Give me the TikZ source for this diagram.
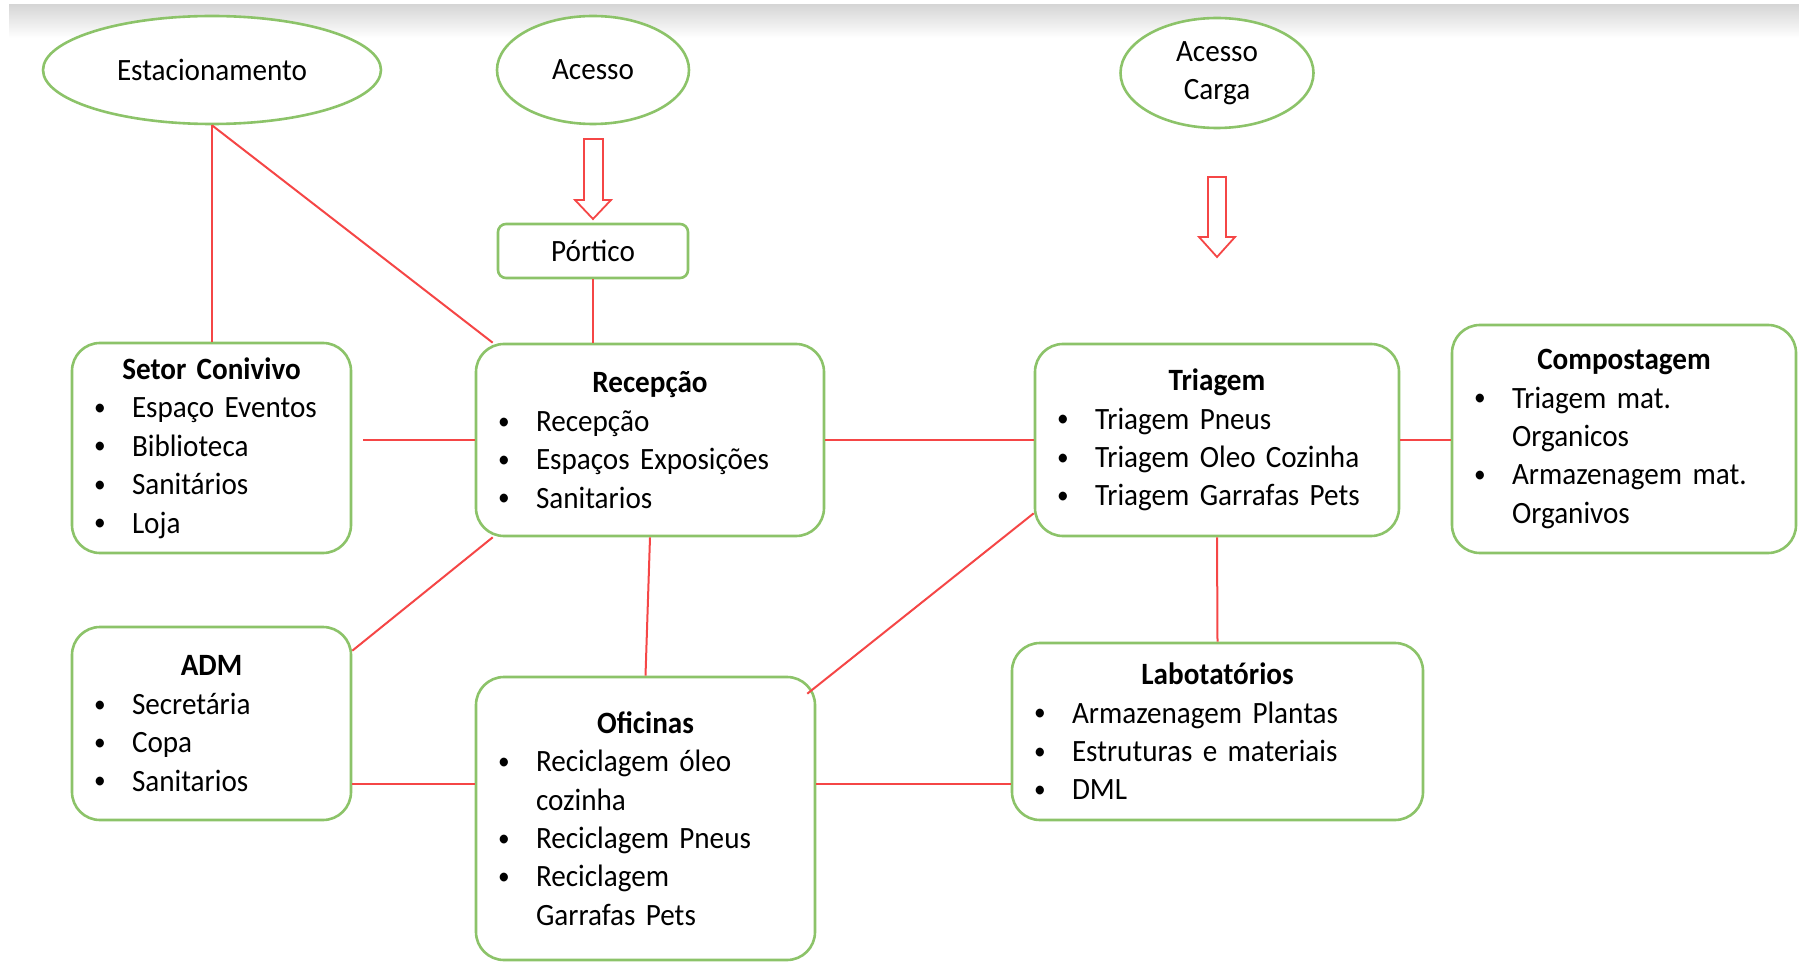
\documentclass[tikz,border=0pt]{standalone}
\usepackage{fontspec}
\setmainfont[FakeStretch=0.94]{Carlito}
\usepackage{tikz}
\usetikzlibrary{shapes.geometric}
\definecolor{boxborder}{RGB}{140, 195, 105}
\definecolor{linkred}{RGB}{245, 70, 70}
\newcommand{\bitem}[1]{\hangindent=23pt\hangafter=1\noindent
    \makebox[23pt][l]{\hspace{4pt}\raisebox{0.15ex}{\scalebox{0.8}{\textbullet}}}#1\par}
\newcommand{\boxhead}[1]{{\centering\bfseries #1\par}}

\begin{document}
\begin{tikzpicture}[x=0.5pt, y=-0.5pt,
    font=\fontsize{15.5pt}{19.2pt}\selectfont,
    sector/.style={draw=boxborder, line width=1.3pt, rounded corners=14pt, fill=white,
        align=left, inner xsep=7pt, inner ysep=0pt},
    place/.style={ellipse, draw=boxborder, line width=1.3pt, fill=white, inner sep=0pt, align=center},
    portal/.style={draw=boxborder, line width=1.3pt, rounded corners=4pt, fill=white,
        minimum width=95pt, minimum height=27pt},
    link/.style={draw=linkred, line width=1pt},
    blockarrow/.style={draw=linkred, line width=0.9pt, fill=white, line join=miter}]
    \useasboundingbox (0,0) rectangle (1799,968);

    % Top shadow band
    \shade[top color=black!16, bottom color=white] (9,5) rectangle (1799,38);

    % Access points
    \node[place, minimum width=169pt, minimum height=54pt] (est) at (212,70) {Estacionamento};
    \node[place, minimum width=96pt, minimum height=54pt] (acesso) at (593,70) {Acesso};
    \node[place, minimum width=96.5pt, minimum height=55pt] (carga) at (1217,73) {Acesso\\Carga};
    \node[portal] (portico) at (593,251) {Pórtico};

    % Block arrows
    \draw[blockarrow] (584,139) -- (603,139) -- (603,200) -- (611,200) -- (593,219)
        -- (575,200) -- (584,200) -- cycle;
    \draw[blockarrow] (1208,177) -- (1226,177) -- (1226,237) -- (1235,237) -- (1217,257)
        -- (1199,237) -- (1208,237) -- cycle;

    % Sectors
    \node[sector, text width=125.5pt, minimum height=105pt] (setor) at (211.5,448) {%
        \boxhead{Setor Conivivo}\bitem{Espaço Eventos}\bitem{Biblioteca}\bitem{Sanitários}\bitem{Loja}};
    \node[sector, text width=160pt, minimum height=96pt] (recep) at (650,440) {%
        \boxhead{Recepção}\bitem{Recepção}\bitem{Espaços Exposições}\bitem{Sanitarios}};
    \node[sector, text width=168pt, minimum height=96pt] (triagem) at (1217,440) {%
        \boxhead{Triagem}\bitem{Triagem Pneus}\bitem{Triagem Oleo Cozinha}\bitem{Triagem Garrafas Pets}};
    \node[sector, text width=158pt, minimum height=114pt] (compost) at (1624,439) {%
        \boxhead{Compostagem}\bitem{Triagem mat.\newline Organicos}\bitem{Armazenagem mat.\newline Organivos}};
    \node[sector, text width=125.5pt, minimum height=96.5pt] (adm) at (211.5,723.5) {%
        \boxhead{ADM}\bitem{Secretária}\bitem{Copa}\bitem{Sanitarios}};
    \node[sector, text width=155.5pt, minimum height=141.5pt] (ofic) at (645.5,818.5) {%
        \boxhead{Oficinas}\bitem{Reciclagem óleo\newline cozinha}\bitem{Reciclagem Pneus}\bitem{Reciclagem\newline Garrafas Pets}};
    \node[sector, text width=191.5pt, minimum height=88.5pt] (labs) at (1217.5,731.5) {%
        \boxhead{Labotatórios}\bitem{Armazenagem Plantas}\bitem{Estruturas e materiais}\bitem{DML}};

    % Links
    \draw[link] (est.south) -- (est.south |- setor.north);
    \draw[link] (est.south) -- ([xshift=9pt]recep.north west);
    \draw[link] (portico.south) -- (portico.south |- recep.north);
    \draw[link, shorten >=5.5pt] (recep.west) -- (recep.west -| setor.east);
    \draw[link] (recep.east) -- (triagem.west);
    \draw[link] (triagem.east) -- (triagem.east -| compost.west);
    \draw[link] (triagem.south) -- (labs.north);
    \draw[link] ([xshift=9pt]recep.south west) -- ([yshift=-12.5pt]adm.north east);
    \draw[link] (recep.south) -- (ofic.north);
    \draw[link] ([yshift=12pt]triagem.south west) -- ([xshift=-4.5pt, yshift=-9pt]ofic.north east);
    \draw[link] ([yshift=18.5pt]adm.south east) coordinate (a1) -- (a1 -| ofic.west);
    \draw[link] ([yshift=18.5pt]labs.south west) coordinate (a2) -- (a2 -| ofic.east);
\end{tikzpicture}
\end{document}
